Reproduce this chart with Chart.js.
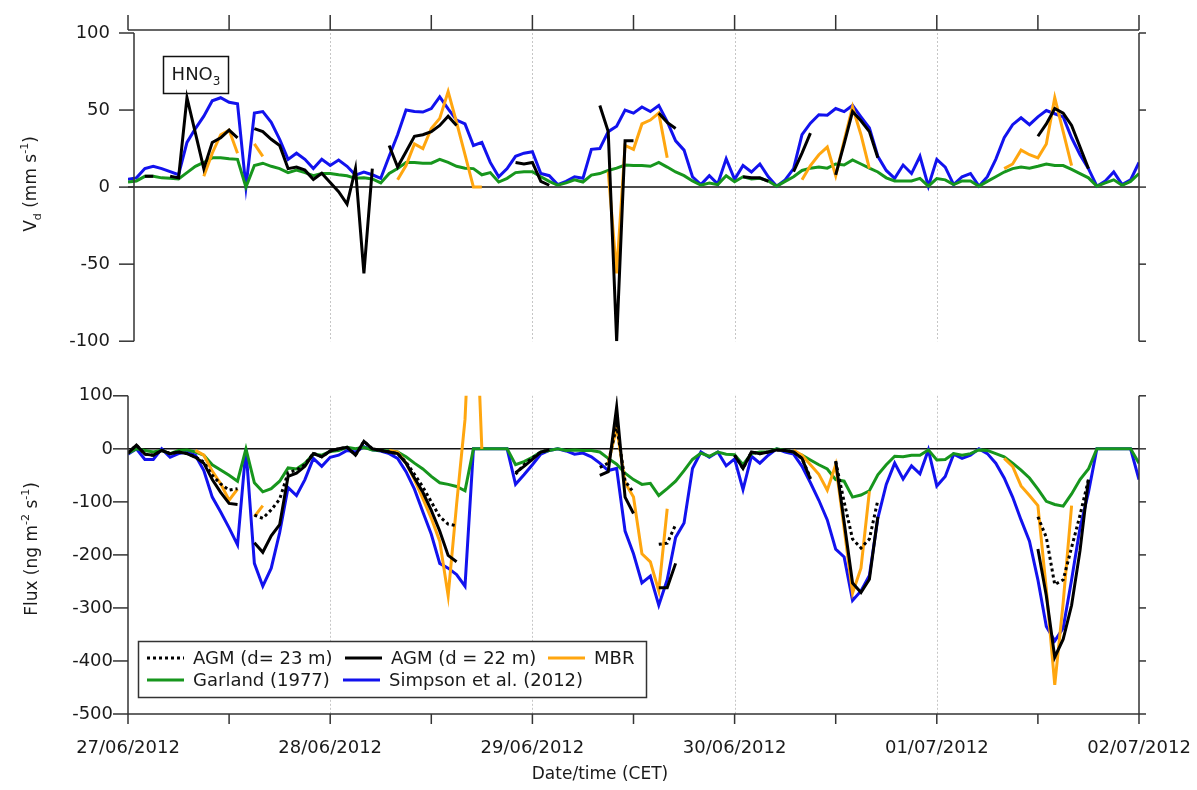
<!DOCTYPE html>
<html>
<head>
<meta charset="utf-8">
<script src="https://cdn.jsdelivr.net/npm/chart.js@4.4.1/dist/chart.umd.min.js"></script>
<style>
  html, body { margin: 0; padding: 0; background: #fff; }
  #wrap { position: relative; width: 1197px; height: 790px; }
  canvas { position: absolute; left: 0; }
  #vdChart { top: 0; }
  #fluxChart { top: 370px; }
</style>
</head>
<body>
<div id="wrap">
  <canvas id="vdChart" width="1197" height="370"></canvas>
  <canvas id="fluxChart" width="1197" height="420"></canvas>
</div>
<script>
const _ = null;

// hourly steps from 27/06/2012 00:00 CET to 02/07/2012 00:00
const hours = Array.from({ length: 121 }, (v, i) => i);
const dayLabels = ['27/06/2012', '28/06/2012', '29/06/2012', '30/06/2012', '01/07/2012', '02/07/2012'];
const dayHours = [0, 24, 48, 72, 96, 120];
const xTickHours = [0, 12, 24, 36, 48, 60, 72, 84, 96, 108, 120];
const dayGridHours = [24, 48, 72, 96];
const vdTicks = [-100, -50, 0, 50, 100];
const fluxTicks = [-500, -400, -300, -200, -100, 0, 100];

const seriesNames = ['AGM (d= 23 m)', 'AGM (d = 22 m)', 'MBR', 'Garland (1977)', 'Simpson et al. (2012)'];
const seriesColors = ['#000000', '#000000', '#ffa60f', '#17961d', '#1212ee'];

// top panel: Vd (mm s-1)
const vdAgm22 = [
  _, _, 7, 7, _, 7, 6, 58, 35, 12, 29, 32, 37, 32, _, 38, 36, 31, 27, 12, 13, 11, 5, 9, 3,
  -3, -11, 12, -56, 12, _, 27, 13, 23, 33, 34, 36, 40, 46, 40, _, _, _, _, _, _, 16, 15, 16,
  3.7, 1.2, _, _, _, _, _, 53, 36, -100, 30, 30, _, _, 48, 42, 38, _, _, _, _, _, _, _,
  6.7, 6, 6, 3.7, _, _, 10, 22, 35, _, _, 8, 28, 49, 43, 36, 19, _, _, _, _, _, _, _,
  _, _, _, _, _, _, _, _, _, _, _, 33, 41, 51, 48, 40, 26, 12, _, _, _, _, _, _
];
const vdMbr = [
  _, _, _, _, _, _, _, _, _, 7, 22, 34, 37, 22, _, 28, 20, _, _, _, _, _, _, _, _,
  _, _, _, _, _, _, _, 4.7, 14, 28, 25, 38, 44.6, 62, 42, 21, 0, 0, _, _, _, _, _, _,
  _, _, _, _, _, _, _, _, 10, -56, 27, 24.5, 41, 43.5, 48, 19, _, _, _, _, _, _, _, _,
  _, _, _, _, _, _, _, 4.7, 14, 21, 26, 7.4, 30, 52, 34, 12, _, _, _, _, _, _, _, _,
  _, _, _, _, _, _, _, 12, 15, 24, 21, 19, 28, 58, 36, 14, _, _, _, _, _, _, _, _
];
const vdGarland = [
  3.3, 4, 7, 7, 6, 5.7, 5.3, 9.4, 13.5, 16, 19, 19, 18.4, 18, 0, 14, 15.5, 13.5, 12, 9.4, 11, 9.4, 7.4, 8.8, 8.8,
  8, 7.4, 5.7, 6, 5.3, 2.7, 8.8, 12, 16, 16, 15.5, 15.5, 18, 16, 13.5, 12.3, 12, 8, 9.4, 3.3, 5.7, 9.4, 10, 10,
  6.7, 3.7, 1.2, 2.7, 4.7, 3.3, 7.8, 8.8, 10.8, 12.3, 14.3, 14, 14, 13.5, 16, 13, 9.8, 7.4, 4, 1.2, 2.7, 1.6, 7.4, 3.5,
  6.7, 5.3, 5.7, 4, 0.6, 3.7, 6.7, 10.8, 12.3, 13, 12.3, 15, 14.3, 17.6, 15, 12.3, 9.8, 6, 4, 4, 4, 5.7, 0.6, 5.5,
  4.7, 1.6, 4, 4, 0.6, 3.7, 6.7, 9.8, 12, 13, 12.3, 13.5, 15, 14, 14, 11.5, 8.8, 6, 0.6, 2.7, 4.7, 1.2, 3.7, 8.8
];
const vdSimpson = [
  5, 6, 12, 13.5, 12, 10, 8, 29, 38, 46, 56, 58, 55, 54, 0, 48, 49, 42, 31, 18, 22, 18, 12, 18, 14,
  17.6, 13.5, 7.8, 9.8, 8, 5.7, 20, 34, 50, 49, 48.7, 51, 58.5, 50.7, 43.5, 41, 27, 29, 16, 6.7, 12, 20, 22, 23,
  8.8, 7.4, 1.6, 3.7, 6.7, 5.7, 24.5, 25, 36, 39.5, 50, 48, 52, 49, 53, 42.5, 30, 24, 6.7, 1.6, 7.4, 2, 18.4, 5,
  14, 9.8, 15, 6.7, 0.6, 4.7, 12, 34, 41.5, 47, 46.6, 51, 49, 53, 45.6, 38.4, 20, 10.8, 5.7, 14.3, 8.8, 20, 0.6, 18,
  13, 1.6, 6.7, 8.8, 0.6, 6.7, 18, 32, 40.5, 45, 40.5, 45.6, 49.7, 47.6, 45.6, 32, 21, 12, 0.6, 4, 9.8, 1.6, 4.7, 16
];

// bottom panel: flux (ng m-2 s-1)
const fluxAgm23 = [
  -8, 7, -10, -12, -3, -9, -6, -9, -15, -25, -50, -66, -78, -75, _, -125, -131, -115, -95, -45, -40, -30, -8, -15, -4,
  0, 3, -12, 14, 0, -3, -6, -9, -25, -48, -72, -100, -128, -142, -145, _, _, _, _, _, _, -48, -30, -17,
  -6, -2, _, _, _, _, _, -35, -27, 45, -61, -82, _, _, -180, -178, -143, _, _, _, _, _, _, -12,
  -37, -6, -9, -6, -2, -3, -6, -18, -55, _, _, -24, -100, -170, -187, -170, -97, _, _, _, _, _, _, _,
  _, _, _, _, _, _, _, _, _, _, _, -128, -167, -256, -247, -186, -125, -58, _, _, _, _, _, _
];
const fluxAgm22 = [
  -8, 7, -10, -12, -3, -9, -6, -9, -16, -27, -58, -82, -103, -105, _, -177, -195, -164, -143, -52, -46, -33, -9, -15, -4,
  0, 3, -12, 14, 0, -3, -6, -9, -27, -55, -82, -116, -155, -201, -213, _, _, _, _, _, _, -45, -33, -20,
  -6, -2, _, _, _, _, _, -50, -43, 79, -91, -122, _, _, -262, -262, -216, _, _, _, _, _, _, -12,
  -37, -6, -9, -6, -2, -3, -6, -18, -57, _, _, -23, -138, -253, -271, -246, -128, _, _, _, _, _, _, _,
  _, _, _, _, _, _, _, _, _, _, _, -189, -277, -393, -359, -295, -192, -58, _, _, _, _, _, _
];
const fluxMbr = [
  _, _, _, _, _, _, _, _, -3, -12, -42, -66, -97, -76, _, -128, -107, _, _, _, _, _, _, _, _,
  _, _, _, _, _, _, -3, -6, -27, -58, -94, -131, -174, -277, -105, 55, 400, 0, _, _, _, _, _, _,
  _, _, _, _, _, _, _, _, -27, 40, -64, -91, -198, -213, -268, -113, _, _, _, _, _, _, _, _,
  _, _, _, _, _, _, -3, -12, -30, -48, -78, -30, -150, -272, -225, -80, _, _, _, _, _, _, _, _,
  _, _, _, _, _, _, _, -18, -33, -70, -88, -107, -265, -445, -290, -107, _, _, _, _, _, _, _, _
];
const fluxGarland = [
  -8, 0, -3, -6, -3, -9, -3, -2, -6, -12, -30, -40, -50, -61, 0, -64, -81, -75, -61, -36, -38, -27, -10, -12, -5,
  -3, 3, 0, 3, -2, -3, -4, -6, -15, -27, -38, -52, -64, -67, -71, -79, 0, 0, 0, 0, 0, -30, -24, -16,
  -6, -3, 0, -3, -2, -3, -3, -6, -18, -29, -46, -58, -67, -65, -88, -75, -61, -41, -20, -8, -14, -6, -10, -11,
  -30, -9, -6, -6, 0, -3, -6, -12, -21, -30, -38, -58, -61, -91, -87, -79, -49, -30, -14, -15, -12, -12, -2, -21,
  -20, -9, -12, -9, -2, -3, -9, -15, -27, -40, -55, -76, -99, -105, -108, -85, -58, -38, 0, 0, 0, 0, 0, -27
];
const fluxSimpson = [
  -10, 0, -20, -20, 0, -16, -9, -6, -12, -41, -91, -119, -149, -181, 0, -216, -259, -225, -158, -73, -88, -58, -18, -33, -16,
  -12, -3, -6, 4, -2, -4, -9, -18, -43, -76, -119, -161, -216, -225, -237, -259, 0, 0, 0, 0, 0, -67, -49, -30,
  -10, -3, 0, -4, -10, -8, -15, -27, -41, -37, -155, -198, -253, -240, -295, -247, -167, -140, -37, -6, -16, -6, -32, -19,
  -77, -14, -27, -12, 0, -6, -10, -33, -64, -97, -134, -189, -204, -286, -268, -239, -131, -67, -27, -57, -32, -47, -2, -70,
  -52, -10, -18, -12, 0, -9, -27, -55, -91, -134, -174, -247, -335, -362, -338, -247, -149, -82, 0, 0, 0, 0, 0, -58
];

Chart.defaults.font.family = "'DejaVu Sans', sans-serif";
Chart.defaults.font.size = 18;
Chart.defaults.color = '#1a1a1a';

function series(i, values, dash) {
  return {
    label: seriesNames[i],
    data: values.map((v, k) => ({ x: hours[k], y: v })),
    borderColor: seriesColors[i],
    backgroundColor: seriesColors[i],
    borderWidth: 3,
    borderDash: dash || [],
    borderCapStyle: 'butt',
    pointRadius: 0,
    tension: 0,
    spanGaps: false,
    fill: false
  };
}

function seg(ctx, x1, y1, x2, y2) {
  ctx.beginPath();
  ctx.moveTo(x1, y1);
  ctx.lineTo(x2, y2);
  ctx.stroke();
}

// text with sub/superscripts, parts = [[text, 'n'|'sub'|'sup'], ...]
function richText(ctx, parts, cx, cy, size, rotate) {
  ctx.save();
  ctx.translate(cx, cy);
  if (rotate) ctx.rotate(-Math.PI / 2);
  const fontOf = p => (p[1] === 'n' ? size : Math.round(size * 0.65)) + "px 'DejaVu Sans'";
  let w = 0;
  parts.forEach(p => { ctx.font = fontOf(p); w += ctx.measureText(p[0]).width; });
  let x = -w / 2;
  ctx.fillStyle = '#1a1a1a';
  ctx.textAlign = 'left';
  ctx.textBaseline = 'alphabetic';
  parts.forEach(p => {
    ctx.font = fontOf(p);
    const dy = p[1] === 'sub' ? 5 : p[1] === 'sup' ? -8 : 0;
    ctx.fillText(p[0], x, size * 0.36 + dy);
    x += ctx.measureText(p[0]).width;
  });
  ctx.restore();
}

const frame = {
  id: 'frame',
  beforeDatasetsDraw(chart, args, opts) {
    const { ctx, chartArea: c } = chart;
    const xs = chart.scales.x, ys = chart.scales.y;
    ctx.save();
    ctx.strokeStyle = '#c6c6c6';
    ctx.lineWidth = 1;
    ctx.setLineDash([2, 2]);
    dayGridHours.forEach(h => {
      const px = Math.round(xs.getPixelForValue(h)) + 0.5;
      seg(ctx, px, c.top, px, c.bottom);
    });
    ctx.setLineDash([]);
    ctx.strokeStyle = '#111';
    ctx.lineWidth = 1.5;
    const y0 = ys.getPixelForValue(0);
    seg(ctx, c.left, y0, c.right, y0);
    ctx.restore();
  },
  afterDraw(chart, args, opts) {
    const { ctx, chartArea: c } = chart;
    const xs = chart.scales.x, ys = chart.scales.y;
    const top = opts.panel === 'vd';
    const yt = top ? vdTicks : fluxTicks;
    ctx.save();
    ctx.strokeStyle = '#333';
    ctx.lineWidth = 1.5;
    const ax = top ? c.left + 6 : c.left;
    seg(ctx, ax, c.top, ax, c.bottom);
    seg(ctx, c.right, c.top, c.right, c.bottom);
    yt.forEach(v => {
      const py = ys.getPixelForValue(v);
      seg(ctx, ax - 15, py, ax, py);
      seg(ctx, c.right, py, c.right + 7, py);
    });
    const hy = top ? c.top - 3 : c.bottom;
    seg(ctx, c.left, hy, c.right, hy);
    xTickHours.forEach(h => {
      const px = xs.getPixelForValue(h);
      if (top) seg(ctx, px, hy - 15, px, hy);
      else seg(ctx, px, hy, px, hy + 10);
    });

    if (top) {
      richText(ctx, [['V', 'n'], ['d', 'sub'], [' (mm s', 'n'], ['-1', 'sup'], [')', 'n']], 30, 184, 17, true);
      ctx.strokeStyle = '#111';
      ctx.lineWidth = 1.5;
      ctx.strokeRect(163.5, 56.5, 65, 37);
      richText(ctx, [['HNO', 'n'], ['3', 'sub']], 196, 74, 18, false);
    } else {
      // date labels under the day ticks
      ctx.fillStyle = '#1a1a1a';
      ctx.font = "18px 'DejaVu Sans'";
      ctx.textAlign = 'center';
      ctx.textBaseline = 'middle';
      dayHours.forEach((h, i) => ctx.fillText(dayLabels[i], xs.getPixelForValue(h), c.bottom + 34));

      richText(ctx, [['Flux (ng m', 'n'], ['-2', 'sup'], [' s', 'n'], ['-1', 'sup'], [')', 'n']], 31, 179, 17, true);
      richText(ctx, [['Date/time (CET)', 'n']], 600, 403, 17, false);

      // legend box
      ctx.fillStyle = '#fff';
      ctx.fillRect(138.5, 271.5, 508, 56);
      ctx.strokeStyle = '#333';
      ctx.lineWidth = 1.5;
      ctx.strokeRect(138.5, 271.5, 508, 56);
      const slots = [[147, 288], [345, 288], [548, 288], [147, 310], [343, 310]];
      chart.data.datasets.forEach((ds, i) => {
        const [sx, sy] = slots[i];
        ctx.strokeStyle = ds.borderColor;
        ctx.lineWidth = 3;
        ctx.setLineDash(ds.borderDash);
        seg(ctx, sx, sy, sx + 37, sy);
        ctx.setLineDash([]);
        ctx.fillStyle = '#1a1a1a';
        ctx.font = "18px 'DejaVu Sans'";
        ctx.textAlign = 'left';
        ctx.textBaseline = 'middle';
        ctx.fillText(ds.label, sx + 46, sy + 1);
      });
    }
    ctx.restore();
  }
};

const hiddenGrid = { display: false, drawTicks: false };

new Chart(document.getElementById('vdChart'), {
  type: 'line',
  data: {
    datasets: [
      series(1, vdAgm22),
      series(2, vdMbr),
      series(3, vdGarland),
      series(4, vdSimpson)
    ]
  },
  options: {
    responsive: false,
    animation: false,
    devicePixelRatio: 1,
    layout: { padding: { top: 33, bottom: 12, left: 0, right: 58 } },
    scales: {
      x: { type: 'linear', min: 0, max: 120, display: false },
      y: {
        min: -100, max: 100,
        grid: hiddenGrid,
        border: { display: false },
        ticks: { stepSize: 50, padding: 18 },
        afterFit(s) { s.width = 128; }
      }
    },
    plugins: {
      legend: { display: false },
      tooltip: { enabled: false },
      frame: { panel: 'vd' }
    }
  },
  plugins: [frame]
});

new Chart(document.getElementById('fluxChart'), {
  type: 'line',
  data: {
    datasets: [
      series(0, fluxAgm23, [3, 3]),
      series(1, fluxAgm22),
      series(2, fluxMbr),
      series(3, fluxGarland),
      series(4, fluxSimpson)
    ]
  },
  options: {
    responsive: false,
    animation: false,
    devicePixelRatio: 1,
    layout: { padding: { top: 15, bottom: 0, left: 0, right: 58 } },
    scales: {
      x: {
        type: 'linear', min: 0, max: 120,
        grid: hiddenGrid,
        border: { display: false },
        ticks: { display: false, stepSize: 12 },
        afterFit(s) { s.height = 76; }
      },
      y: {
        min: -500, max: 100,
        grid: hiddenGrid,
        border: { display: false },
        ticks: { stepSize: 100, padding: 15 },
        afterFit(s) { s.width = 128; }
      }
    },
    plugins: {
      legend: { display: false },
      tooltip: { enabled: false },
      frame: { panel: 'flux' }
    }
  },
  plugins: [frame]
});
</script>
</body>
</html>
